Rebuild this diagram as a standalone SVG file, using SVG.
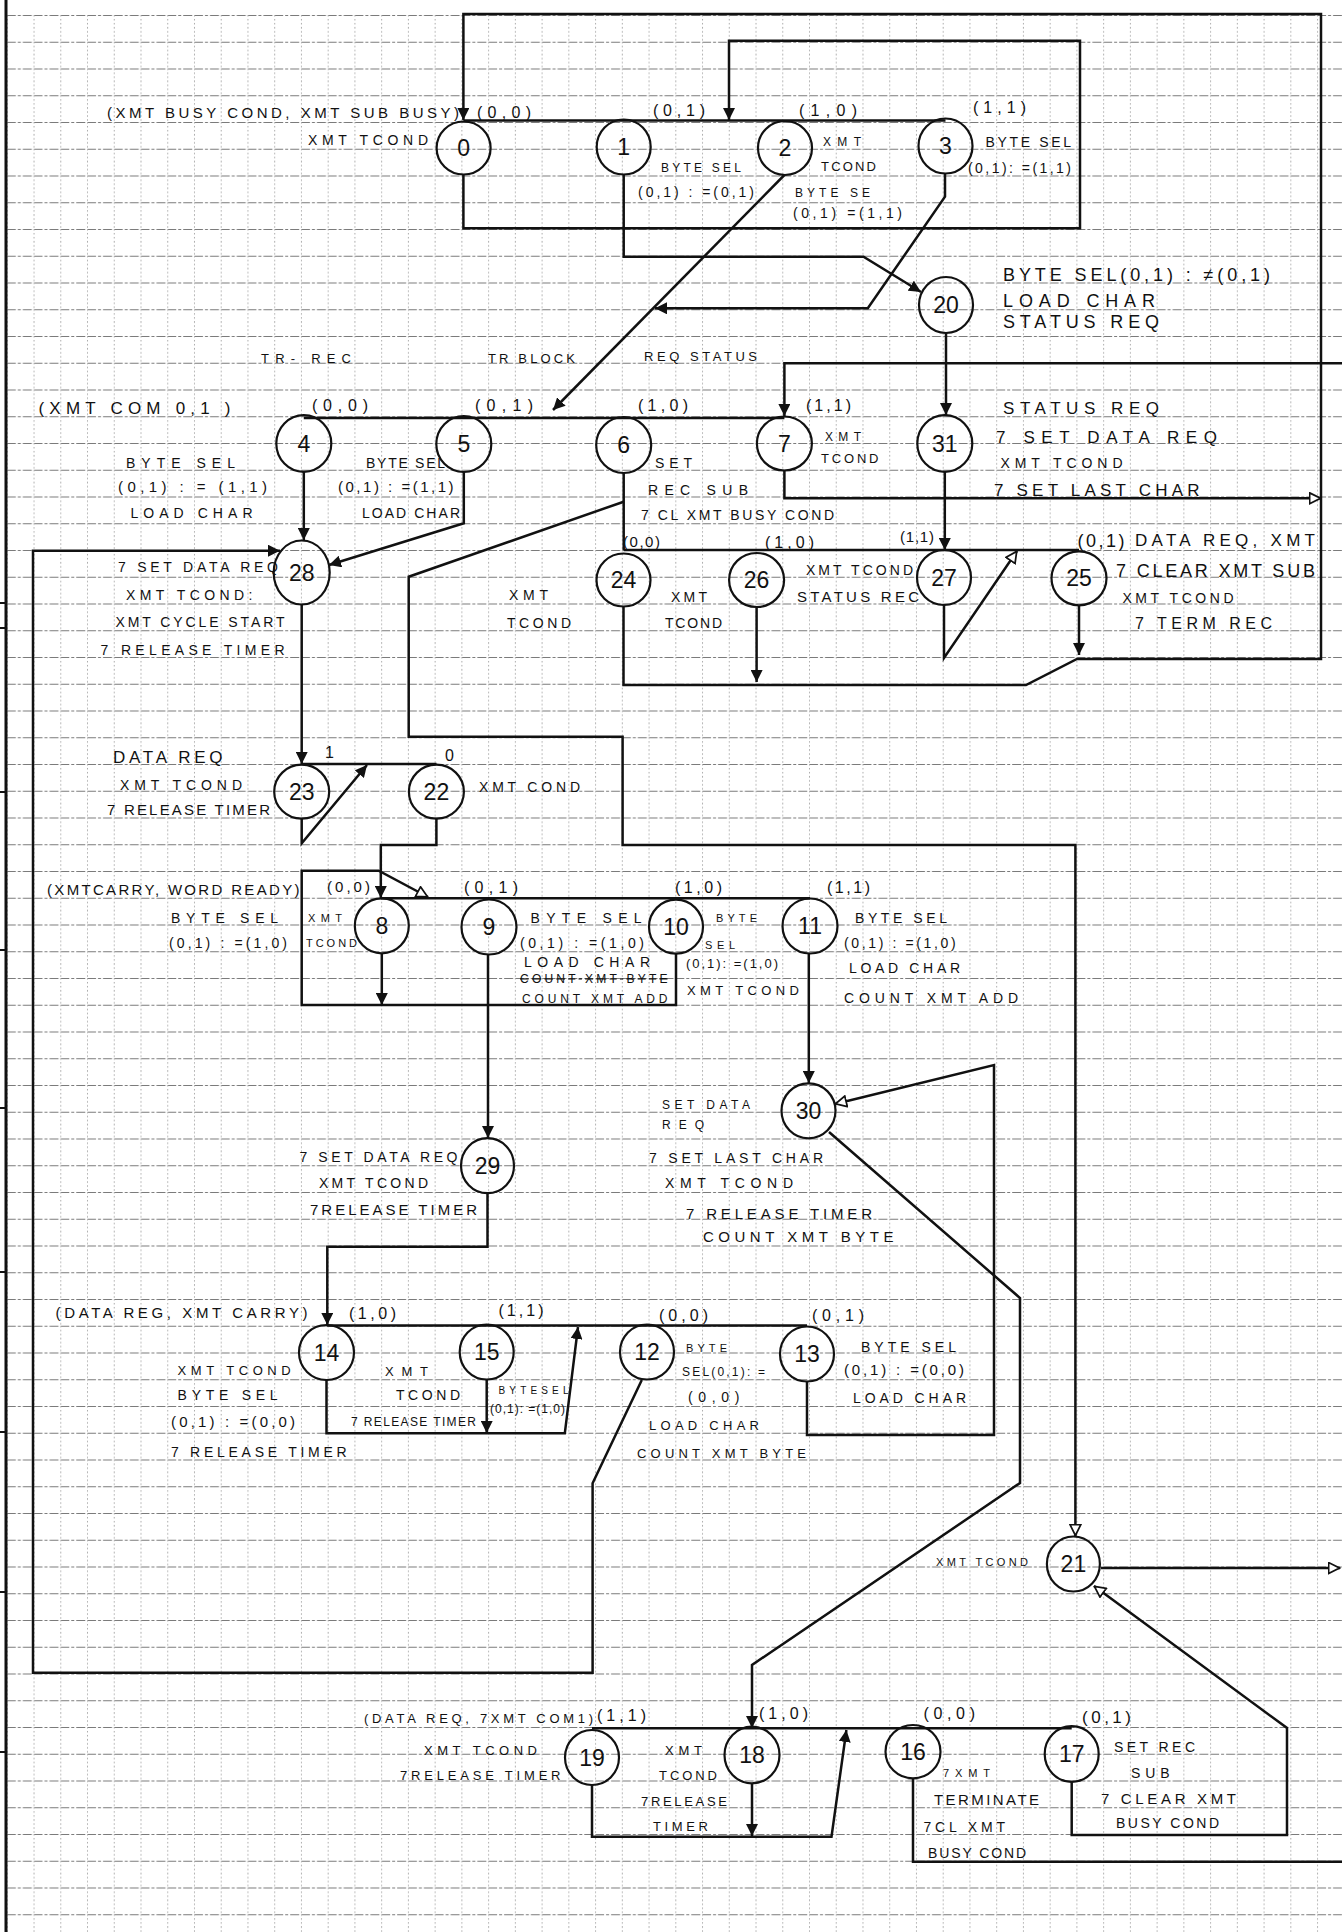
<svg xmlns="http://www.w3.org/2000/svg" width="1342" height="1932" viewBox="0 0 1342 1932">
<defs>
<style>
.n ellipse{fill:none;stroke:#111;stroke-width:2.2}
.n text{font-family:"Liberation Sans",Arial,sans-serif;font-size:23px;text-anchor:middle;fill:#111}
.c path{fill:none;stroke:#111;stroke-width:2.5}
.t{font-family:"Liberation Sans",Arial,sans-serif;fill:#111}
.f10{font-size:10px}.f11{font-size:11px}.f12{font-size:12px}.f13{font-size:13px}.f14{font-size:14px}
.f15{font-size:15px}.f16{font-size:16px}.f17{font-size:17px}.f18{font-size:18px}
.st{text-decoration:line-through}
</style>
<pattern id="grid" patternUnits="userSpaceOnUse" x="6.8" y="15" width="26.74" height="26.75">
<line x1="0" y1="0.5" x2="26.74" y2="0.5" stroke="#7a7a7a" stroke-width="1" stroke-dasharray="9 2 3 2"/>
<line x1="0.5" y1="0" x2="0.5" y2="26.75" stroke="#aaaaaa" stroke-width="1" stroke-dasharray="1.5 2.5"/>
</pattern>
<marker id="a" viewBox="0 0 12 12" refX="12" refY="6" markerWidth="12" markerHeight="12" markerUnits="userSpaceOnUse" orient="auto"><path d="M0,0 L12,6 L0,12 z" fill="#111"/></marker>
<marker id="o" viewBox="0 0 12 12" refX="11.5" refY="6" markerWidth="13" markerHeight="13" markerUnits="userSpaceOnUse" orient="auto"><path d="M1,1 L11,6 L1,11 z" fill="#fff" stroke="#111" stroke-width="1.6"/></marker>
</defs>
<rect width="1342" height="1932" fill="#fff"/>
<g id="paper">
<rect x="6" y="15" width="1336" height="1917" fill="url(#grid)"/>
<path d="M6 0 V1932" stroke="#111" stroke-width="3"/>
<path d="M0 603 H6 M0 628 H6 M0 792 H6 M0 950 H6 M0 1108 H6 M0 1272 H6 M0 1432 H6 M0 1592 H6 M0 1752 H6" stroke="#111" stroke-width="2"/>
</g>
<g id="connectors" class="c">
<path d="M1079 606 V655" marker-end="url(#a)"/>
<path d="M623.5 607 V685 H1026 L1077 659 H1321 V14 H463.4 V120" marker-end="url(#a)"/>
<path d="M756.6 608 V682" marker-end="url(#a)"/>
<path d="M944 605 V658 L1017 551" marker-end="url(#o)"/>
<path d="M463.4 174 V228.3 H1080 V40.7 H729 V120" marker-end="url(#a)"/>
<path d="M463.4 120.5 H945.5"/>
<path d="M623.7 175 V256.7 H863.5 L921 292" marker-end="url(#a)"/>
<path d="M784.4 175 L553 410" marker-end="url(#a)"/>
<path d="M945 174 V196.7 L867.8 308.3 H655" marker-end="url(#a)"/>
<path d="M946 333 V415" marker-end="url(#a)"/>
<path d="M303.8 418 H784.4"/>
<path d="M1342 363.3 H784.4 V416" marker-end="url(#a)"/>
<path d="M784.4 471 V498.3 H1321" marker-end="url(#o)"/>
<path d="M944.8 472 V550" marker-end="url(#a)"/>
<path d="M303.8 472 V540" marker-end="url(#a)"/>
<path d="M463.8 472 V523.3 L329 565" marker-end="url(#a)"/>
<path d="M623.7 550 H1079"/>
<path d="M623.7 473 V550"/>
<path d="M623.7 501.7 L408.7 576.7 V736.7 H622.6 V845 H1075.4 V1536" marker-end="url(#o)"/>
<path d="M641.8 1380 L592.6 1483.3 V1672.7 H33 V550.7 H280" marker-end="url(#a)"/>
<path d="M301.7 605 V764" marker-end="url(#a)"/>
<path d="M301.7 764 H436.5"/>
<path d="M301.7 819 V843.3 L367 765" marker-end="url(#a)"/>
<path d="M436.4 819 V845 H380.8 V898" marker-end="url(#a)"/>
<path d="M381 898.3 H810"/>
<path d="M676 954 V1005 H301.7 V870.7 H378.7 L428 897" marker-end="url(#o)"/>
<path d="M381.8 953 V1005" marker-end="url(#a)"/>
<path d="M488 955 V1138" marker-end="url(#a)"/>
<path d="M808.8 954 V1083" marker-end="url(#a)"/>
<path d="M487.5 1193 V1246.7 H327.3 V1325" marker-end="url(#a)"/>
<path d="M326.5 1325.5 H807"/>
<path d="M326.5 1380 V1433.3 H564.8 L578 1327" marker-end="url(#a)"/>
<path d="M486.7 1380 V1433" marker-end="url(#a)"/>
<path d="M807 1382 V1435 H994 V1065 L835 1104" marker-end="url(#o)"/>
<path d="M829 1132 L1020 1298 V1483 L752 1665 V1728" marker-end="url(#a)"/>
<path d="M1101 1568 H1340" marker-end="url(#o)"/>
<path d="M1071.7 1782 V1835 H1287 V1728 L1094 1586" marker-end="url(#o)"/>
<path d="M592 1728.3 H1071.7"/>
<path d="M592 1785 V1836.7 H831.5 L846.4 1730" marker-end="url(#a)"/>
<path d="M752 1783 V1836" marker-end="url(#a)"/>
<path d="M913 1779 V1861.7 H1342"/>
</g>
<g id="n0" class="n"><ellipse cx="463.6" cy="148" rx="27" ry="26.5"/><text x="463.6" y="156">0</text></g>
<g id="n1" class="n"><ellipse cx="623.7" cy="147" rx="27" ry="27.5"/><text x="623.7" y="155">1</text></g>
<g id="n2" class="n"><ellipse cx="785" cy="148" rx="27" ry="27"/><text x="785" y="156">2</text></g>
<g id="n3" class="n"><ellipse cx="945.5" cy="146" rx="27" ry="27.5"/><text x="945.5" y="154">3</text></g>
<g id="n20" class="n"><ellipse cx="946" cy="305" rx="27" ry="28"/><text x="946" y="313">20</text></g>
<g id="n4" class="n"><ellipse cx="303.8" cy="443.5" rx="27.5" ry="28.3"/><text x="303.8" y="451.5">4</text></g>
<g id="n5" class="n"><ellipse cx="463.8" cy="444" rx="27.5" ry="28"/><text x="463.8" y="452">5</text></g>
<g id="n6" class="n"><ellipse cx="623.7" cy="445" rx="27.5" ry="28"/><text x="623.7" y="453">6</text></g>
<g id="n7" class="n"><ellipse cx="784.4" cy="443.5" rx="27.5" ry="27"/><text x="784.4" y="451.5">7</text></g>
<g id="n31" class="n"><ellipse cx="944.8" cy="443.5" rx="27.5" ry="28.3"/><text x="944.8" y="451.5">31</text></g>
<g id="n28" class="n"><ellipse cx="301.7" cy="572.5" rx="28" ry="32"/><text x="301.7" y="580.5">28</text></g>
<g id="n24" class="n"><ellipse cx="623.5" cy="580" rx="27" ry="26.5"/><text x="623.5" y="588">24</text></g>
<g id="n26" class="n"><ellipse cx="756.6" cy="580" rx="27.5" ry="27"/><text x="756.6" y="588">26</text></g>
<g id="n27" class="n"><ellipse cx="944" cy="577.5" rx="27" ry="27.5"/><text x="944" y="585.5">27</text></g>
<g id="n25" class="n"><ellipse cx="1079" cy="578.3" rx="27.5" ry="27"/><text x="1079" y="586.3">25</text></g>
<g id="n23" class="n"><ellipse cx="301.7" cy="791.7" rx="27.5" ry="27"/><text x="301.7" y="799.7">23</text></g>
<g id="n22" class="n"><ellipse cx="436.4" cy="791.7" rx="27.5" ry="27"/><text x="436.4" y="799.7">22</text></g>
<g id="n8" class="n"><ellipse cx="381.8" cy="925.8" rx="27" ry="27.5"/><text x="381.8" y="933.8">8</text></g>
<g id="n9" class="n"><ellipse cx="489" cy="927" rx="27.5" ry="27.5"/><text x="489" y="935">9</text></g>
<g id="n10" class="n"><ellipse cx="676" cy="926.7" rx="27" ry="27"/><text x="676" y="934.7">10</text></g>
<g id="n11" class="n"><ellipse cx="810" cy="926" rx="27.5" ry="27.5"/><text x="810" y="934">11</text></g>
<g id="n29" class="n"><ellipse cx="487.5" cy="1165.7" rx="26.5" ry="27.5"/><text x="487.5" y="1173.7">29</text></g>
<g id="n30" class="n"><ellipse cx="808.5" cy="1110.8" rx="27" ry="27.5"/><text x="808.5" y="1118.8">30</text></g>
<g id="n14" class="n"><ellipse cx="326.5" cy="1352.5" rx="27.5" ry="27.5"/><text x="326.5" y="1360.5">14</text></g>
<g id="n15" class="n"><ellipse cx="486.7" cy="1352" rx="27" ry="27.5"/><text x="486.7" y="1360">15</text></g>
<g id="n12" class="n"><ellipse cx="647" cy="1352" rx="27" ry="27.5"/><text x="647" y="1360">12</text></g>
<g id="n13" class="n"><ellipse cx="807" cy="1354" rx="27" ry="27.5"/><text x="807" y="1362">13</text></g>
<g id="n21" class="n"><ellipse cx="1073.4" cy="1564" rx="26.5" ry="27.5"/><text x="1073.4" y="1572">21</text></g>
<g id="n19" class="n"><ellipse cx="592" cy="1757.5" rx="27" ry="27.5"/><text x="592" y="1765.5">19</text></g>
<g id="n18" class="n"><ellipse cx="752" cy="1755" rx="27.5" ry="28.3"/><text x="752" y="1763">18</text></g>
<g id="n16" class="n"><ellipse cx="913" cy="1751.7" rx="27.5" ry="26.7"/><text x="913" y="1759.7">16</text></g>
<g id="n17" class="n"><ellipse cx="1071.7" cy="1754" rx="27" ry="27.8"/><text x="1071.7" y="1762">17</text></g>
<g id="labels" class="t">
<text class="f15" x="107" y="118.4" textLength="352">(XMT  BUSY COND, XMT SUB BUSY)</text>
<text class="f16" x="477" y="117.8" textLength="54">(0,0)</text>
<text class="f14" x="308" y="145" textLength="120">XMT TCOND</text>
<text class="f16" x="653" y="115.8" textLength="52">(0,1)</text>
<text class="f16" x="799" y="115.8" textLength="58">(1,0)</text>
<text class="f16" x="973" y="112.8" textLength="53">(1,1)</text>
<text class="f12" x="661" y="172.3" textLength="80">BYTE SEL</text>
<text class="f14" x="638" y="196.7" textLength="116">(0,1) : =(0,1)</text>
<text class="f12" x="823" y="146" textLength="38">XMT</text>
<text class="f13" x="821" y="171.4" textLength="55">TCOND</text>
<text class="f12" x="795" y="197.3" textLength="75">BYTE SE</text>
<text class="f14" x="793" y="218" textLength="109">(0,1) =(1,1)</text>
<text class="f14" x="985.5" y="146.7" textLength="85.5">BYTE SEL</text>
<text class="f14" x="968" y="173" textLength="103">(0,1): =(1,1)</text>
<text class="f18" x="1003" y="281" textLength="267">BYTE SEL(0,1) : ≠(0,1)</text>
<text class="f18" x="1003" y="306.5" textLength="152">LOAD CHAR</text>
<text class="f18" x="1003" y="328.2" textLength="156">STATUS REQ</text>
<text class="f13" x="261" y="362.7" textLength="90">TR- REC</text>
<text class="f13" x="488" y="362.7" textLength="87">TR BLOCK</text>
<text class="f13" x="644" y="361.4" textLength="113">REQ STATUS</text>
<text class="f17" x="38.5" y="414" textLength="192">(XMT COM  0,1 )</text>
<text class="f16" x="312" y="410.8" textLength="56">(0,0)</text>
<text class="f16" x="475" y="410.8" textLength="58">(0,1)</text>
<text class="f16" x="638" y="410.8" textLength="50">(1,0)</text>
<text class="f16" x="806" y="410.8" textLength="45">(1,1)</text>
<text class="f14" x="126" y="468" textLength="109">BYTE SEL</text>
<text class="f15" x="118" y="492.1" textLength="149">(0,1) : = (1,1)</text>
<text class="f14" x="130.5" y="518" textLength="122">LOAD CHAR</text>
<text class="f14" x="366" y="468" textLength="79">BYTE SEL</text>
<text class="f15" x="338" y="492.1" textLength="115.6">(0,1) : =(1,1)</text>
<text class="f14" x="362" y="518" textLength="98">LOAD CHAR</text>
<text class="f14" x="655" y="468" textLength="37">SET</text>
<text class="f14" x="648" y="495" textLength="100">REC SUB</text>
<text class="f14" x="641" y="520" textLength="193">7 CL XMT BUSY COND</text>
<text class="f12" x="825" y="441" textLength="36">XMT</text>
<text class="f13" x="821" y="463" textLength="57.5">TCOND</text>
<text class="f17" x="1003" y="414.4" textLength="156">STATUS REQ</text>
<text class="f17" x="996" y="442.8" textLength="221">7 SET DATA REQ</text>
<text class="f14" x="1000.5" y="468.3" textLength="122">XMT TCOND</text>
<text class="f17" x="994" y="495.5" textLength="205.5">7 SET LAST CHAR</text>
<text class="f14" x="118" y="571.7" textLength="160">7 SET DATA REQ</text>
<text class="f14" x="126" y="600" textLength="126.5">XMT TCOND:</text>
<text class="f14" x="115.5" y="626.7" textLength="169">XMT CYCLE START</text>
<text class="f14" x="100.6" y="655" textLength="184">7 RELEASE TIMER</text>
<text class="f15" x="623" y="547" textLength="37">(0,0)</text>
<text class="f16" x="765" y="547.5" textLength="49">(1,0)</text>
<text class="f15" x="900" y="542" textLength="34">(1,1)</text>
<text class="f18" x="1077.5" y="546.5" textLength="47">(0,1)</text>
<text class="f17" x="1135" y="546" textLength="180">DATA REQ, XMT</text>
<text class="f14" x="806" y="575" textLength="107">XMT TCOND</text>
<text class="f15" x="797" y="602" textLength="122">STATUS REC</text>
<text class="f18" x="1116" y="576.5" textLength="199">7 CLEAR XMT SUB</text>
<text class="f14" x="1122.5" y="603.3" textLength="111">XMT TCOND</text>
<text class="f16" x="1135" y="629" textLength="137">7 TERM REC</text>
<text class="f14" x="671" y="601.7" textLength="36">XMT</text>
<text class="f14" x="665" y="628.3" textLength="57">TCOND</text>
<text class="f14" x="509" y="600" textLength="39">XMT</text>
<text class="f14" x="507" y="628.3" textLength="64">TCOND</text>
<text class="f17" x="113" y="762.8" textLength="109.5">DATA REQ</text>
<text class="f16" x="325" y="757.5">1</text>
<text class="f16" x="445" y="760.8">0</text>
<text class="f14" x="120" y="790" textLength="122">XMT TCOND</text>
<text class="f15" x="107" y="815.4" textLength="163">7 RELEASE TIMER</text>
<text class="f14" x="479" y="791.7" textLength="101">XMT COND</text>
<text class="f15" x="47" y="895.4" textLength="252.5">(XMTCARRY, WORD READY)</text>
<text class="f15" x="327" y="892" textLength="43">(0,0)</text>
<text class="f16" x="464" y="892.5" textLength="54">(0,1)</text>
<text class="f16" x="675" y="892.5" textLength="47">(1,0)</text>
<text class="f16" x="827" y="892.5" textLength="43">(1,1)</text>
<text class="f14" x="171" y="923" textLength="107">BYTE SEL</text>
<text class="f14" x="169" y="948" textLength="118">(0,1) : =(1,0)</text>
<text class="f11" x="308" y="922" textLength="34">XMT</text>
<text class="f11" x="306" y="947" textLength="51">TCOND</text>
<text class="f14" x="530.6" y="923" textLength="111">BYTE SEL</text>
<text class="f14" x="520" y="948" textLength="124">(0,1) : =(1,0)</text>
<text class="f14" x="524" y="966.7" textLength="126">LOAD CHAR</text>
<text class="f12 st" x="520" y="982.6" textLength="147.5">COUNT XMT BYTE</text>
<text class="f12" x="522" y="1002.6" textLength="145.5">COUNT XMT ADD</text>
<text class="f11" x="716" y="922" textLength="41">BYTE</text>
<text class="f11" x="705" y="949" textLength="30">SEL</text>
<text class="f13" x="686" y="968" textLength="92">(0,1): =(1,0)</text>
<text class="f13" x="687" y="994.7" textLength="112">XMT TCOND</text>
<text class="f14" x="855" y="923" textLength="92">BYTE SEL</text>
<text class="f14" x="844" y="948.3" textLength="111.6">(0,1) : =(1,0)</text>
<text class="f14" x="849" y="973.3" textLength="111">LOAD CHAR</text>
<text class="f14" x="844" y="1003.3" textLength="174">COUNT XMT ADD</text>
<text class="f12" x="662" y="1109.3" textLength="88">SET DATA</text>
<text class="f12" x="662" y="1129.3" textLength="42">REQ</text>
<text class="f14" x="649" y="1163.3" textLength="174">7 SET LAST CHAR</text>
<text class="f14" x="665" y="1188.3" textLength="128">XMT TCOND</text>
<text class="f15" x="686" y="1218.7" textLength="186">7 RELEASE TIMER</text>
<text class="f15" x="703" y="1242" textLength="190.5">COUNT XMT BYTE</text>
<text class="f14" x="299.5" y="1161.7" textLength="158">7 SET DATA REQ</text>
<text class="f14" x="319" y="1188.3" textLength="109">XMT TCOND</text>
<text class="f15" x="310" y="1215.4" textLength="167">7RELEASE TIMER</text>
<text class="f15" x="55.6" y="1318.4" textLength="252">(DATA REG, XMT CARRY)</text>
<text class="f16" x="349" y="1318.8" textLength="47">(1,0)</text>
<text class="f16" x="498.5" y="1315.8" textLength="45">(1,1)</text>
<text class="f16" x="659" y="1320.8" textLength="49">(0,0)</text>
<text class="f16" x="812" y="1320.8" textLength="52">(0,1)</text>
<text class="f13" x="177.6" y="1374.7" textLength="113">XMT TCOND</text>
<text class="f14" x="177.6" y="1400" textLength="100">BYTE SEL</text>
<text class="f15" x="171" y="1427.1" textLength="124">(0,1) : =(0,0)</text>
<text class="f14" x="171" y="1456.7" textLength="175.6">7 RELEASE TIMER</text>
<text class="f13" x="385" y="1376.4" textLength="43">XMT</text>
<text class="f14" x="396" y="1400" textLength="64">TCOND</text>
<text class="f12" x="351" y="1426" textLength="125">7 RELEASE TIMER</text>
<text class="f10" x="498.5" y="1393.6" textLength="70">BYTESEL</text>
<text class="f12" x="490" y="1412.6" textLength="75">(0,1): =(1,0)</text>
<text class="f11" x="686" y="1352.3" textLength="41">BYTE</text>
<text class="f12" x="682" y="1376" textLength="83">SEL(0,1): =</text>
<text class="f14" x="688" y="1401.7" textLength="51.5">(0,0)</text>
<text class="f13" x="649" y="1429.7" textLength="110">LOAD CHAR</text>
<text class="f13" x="637" y="1458" textLength="169">COUNT XMT BYTE</text>
<text class="f14" x="861" y="1351.7" textLength="95">BYTE SEL</text>
<text class="f15" x="844" y="1375.4" textLength="120">(0,1) : =(0,0)</text>
<text class="f14" x="853" y="1403.3" textLength="113">LOAD CHAR</text>
<text class="f11" x="936" y="1565.7" textLength="92">XMT TCOND</text>
<text class="f13" x="364" y="1723" textLength="229">(DATA REQ, 7XMT COM1)</text>
<text class="f16" x="597" y="1720.8" textLength="49">(1,1)</text>
<text class="f13" x="424" y="1754.7" textLength="113">XMT TCOND</text>
<text class="f13" x="400" y="1779.7" textLength="160.5">7RELEASE TIMER</text>
<text class="f13" x="665" y="1754.7" textLength="37">XMT</text>
<text class="f13" x="659" y="1779.7" textLength="58">TCOND</text>
<text class="f13" x="641" y="1806.4" textLength="86">7RELEASE</text>
<text class="f13" x="653" y="1831.4" textLength="55">TIMER</text>
<text class="f16" x="759" y="1719" textLength="49">(1,0)</text>
<text class="f16" x="923.5" y="1719" textLength="51.5">(0,0)</text>
<text class="f17" x="1082" y="1722.8" textLength="49">(0,1)</text>
<text class="f11" x="943" y="1777.3" textLength="47">7XMT</text>
<text class="f15" x="934" y="1805.4" textLength="105">TERMINATE</text>
<text class="f14" x="923.5" y="1831.7" textLength="81.5">7CL XMT</text>
<text class="f14" x="928" y="1858.3" textLength="98">BUSY COND</text>
<text class="f14" x="1114" y="1751.7" textLength="81">SET REC</text>
<text class="f14" x="1131" y="1778.3" textLength="38.5">SUB</text>
<text class="f15" x="1101" y="1803.7" textLength="135">7 CLEAR XMT</text>
<text class="f14" x="1116" y="1828.3" textLength="103">BUSY COND</text>
</g>
</svg>
